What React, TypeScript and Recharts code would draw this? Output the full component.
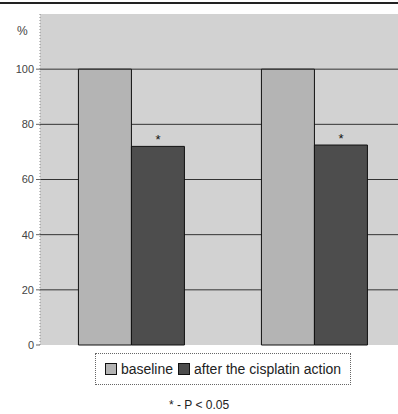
import React from 'react';
import { BarChart, Bar, XAxis, YAxis, CartesianGrid, LabelList } from 'recharts';

const groups = ['A', 'B'];
const baseline = [100, 100];
const afterCisplatin = [72, 72.5];
const significance = ['*', '*'];
const yTicks = [0, 20, 40, 60, 80, 100];

const data = groups.map((g, i) => ({
  name: g,
  baseline: baseline[i],
  after: afterCisplatin[i],
  sig: significance[i],
}));

const font = '"Liberation Sans", Arial, sans-serif';

export default function App() {
  return (
    <div style={{ position: 'fixed', left: 0, top: 0, width: 398, height: 414, overflow: 'hidden', background: '#fff', fontFamily: font }}>
      <style>{'html, body { overflow: hidden; margin: 0; }'}</style>
      {/* plot panel background */}
      <div style={{ position: 'absolute', left: 40, top: 14, width: 358, height: 331, background: '#d2d2d2' }} />
      <div style={{ position: 'absolute', left: 0, top: 0 }}>
        <BarChart
          width={406}
          height={414}
          data={data}
          margin={{ top: 14, right: 0, bottom: 69, left: 0 }}
          barGap={0}
          barCategoryGap="21%"
        >
          <CartesianGrid fill="none" stroke="#333" vertical={false} horizontalValues={[20, 40, 60, 80, 100]} />
          <XAxis dataKey="name" height={0} tick={false} tickLine={false} axisLine={{ stroke: '#888', strokeDasharray: '1 2' }} />
          <YAxis
            width={40}
            domain={[0, 120]}
            ticks={yTicks}
            tickSize={4}
            tickLine={{ stroke: '#666' }}
            axisLine={{ stroke: '#888', strokeDasharray: '1 2' }}
            tick={{ fontSize: 11, fill: '#444', fontFamily: font }}
          />
          <Bar dataKey="baseline" fill="#b4b4b4" stroke="#111" strokeWidth={1} isAnimationActive={false} />
          <Bar dataKey="after" fill="#4d4d4d" stroke="#111" strokeWidth={1} isAnimationActive={false}>
            <LabelList dataKey="sig" position="top" offset={2} style={{ fontSize: 13, fill: '#111', fontFamily: font }} />
          </Bar>
        </BarChart>
      </div>
      <div style={{ position: 'absolute', left: 0, top: 2, width: 398, height: 2, background: '#222' }} />
      <div style={{ position: 'absolute', left: 17, top: 24, fontSize: 12, color: '#444' }}>%</div>
      <div
        style={{
          position: 'absolute', left: 95, top: 353, width: 256, height: 32, boxSizing: 'border-box',
          border: '1px dotted #666', display: 'flex', alignItems: 'center', justifyContent: 'center',
          fontSize: 14, color: '#222', whiteSpace: 'nowrap',
        }}
      >
        <span style={{ display: 'inline-block', width: 10, height: 10, background: '#b4b4b4', border: '1px solid #111', marginRight: 4 }} />
        <span style={{ marginRight: 5 }}>baseline</span>
        <span style={{ display: 'inline-block', width: 10, height: 10, background: '#4d4d4d', border: '1px solid #111', marginRight: 4 }} />
        <span>after the cisplatin action</span>
      </div>
      <div style={{ position: 'absolute', left: 0, width: 398, top: 398, textAlign: 'center', fontSize: 12, color: '#222' }}>
        * - P &lt; 0.05
      </div>
    </div>
  );
}
